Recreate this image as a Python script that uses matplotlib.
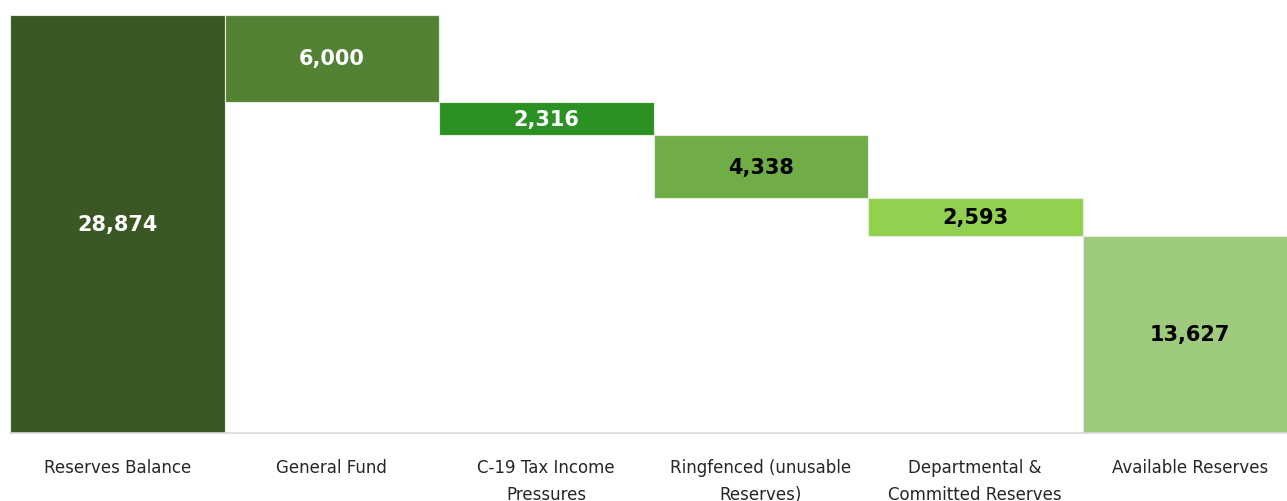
import numpy as np
import matplotlib.pyplot as plt

# reserves waterfall
categories = ["Reserves Balance", "General Fund", "C-19 Tax Income\nPressures",
              "Ringfenced (unusable\nReserves)", "Departmental &\nCommitted Reserves",
              "Available Reserves"]
start_total = 28874
deductions = [6000, 2316, 4338, 2593]
end_total = 13627
colors = ["#3b5723", "#548235", "#2b9122", "#70ad47", "#92d050", "#9dca7d"]
label_colors = ["white", "white", "white", "black", "black", "black"]

values = [start_total] + deductions + [end_total]
tops = [start_total] + list(start_total - np.cumsum([0] + deductions[:-1])) + [end_total]
bottoms = [0] + [t - d for t, d in zip(tops[1:5], deductions)] + [0]

fig = plt.figure(figsize=(12.87, 5.02), dpi=100)
ax = fig.add_axes([10 / 1287, 68 / 502, 1287 / 1287, (434 - 16) / 502])

x = np.arange(len(categories))
ax.bar(x, values, width=1.0, bottom=bottoms, color=colors,
       edgecolor="#e4eedc", linewidth=0.8)

for xi, v, b, c in zip(x, values, bottoms, label_colors):
    ax.text(xi, b + v / 2, f"{v:,}", ha="center", va="center",
            fontsize=15, fontweight="bold", color=c)

ax.set_xlim(-0.5, 5.5)
ax.set_ylim(0, start_total)
ax.set_xticks(x)
ax.set_xticklabels(categories, fontsize=12, color="#262626", linespacing=1.65)
ax.tick_params(axis="x", length=0, pad=18)
ax.set_yticks([])
for s in ["top", "right", "left"]:
    ax.spines[s].set_visible(False)
ax.spines["bottom"].set_color("#d9d9d9")
ax.spines["bottom"].set_linewidth(1.2)

fig.savefig("out.png", dpi=100)
